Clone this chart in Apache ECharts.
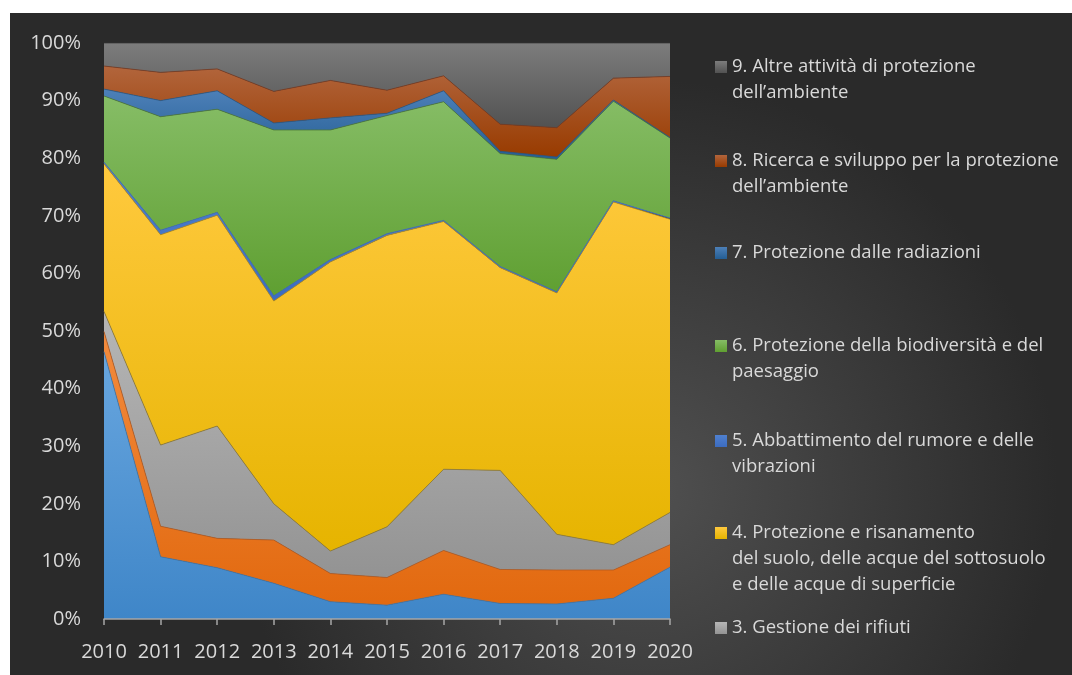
<!DOCTYPE html>
<html>
<head>
<meta charset="utf-8">
<script src="https://cdn.jsdelivr.net/npm/echarts@6/dist/echarts.min.js"></script>
<style>
  html, body { margin: 0; padding: 0; background: #ffffff; }
  #chart { width: 1072px; height: 675px; }
</style>
</head>
<body>
<div id="chart"></div>
<script>
// Years on the horizontal axis
const years = ['2010', '2011', '2012', '2013', '2014', '2015', '2016', '2017', '2018', '2019', '2020'];

// Share of spending (%) by environmental protection domain
const aria      = [46.4, 10.8, 8.9, 6.2, 3.0, 2.4, 4.3, 2.7, 2.6, 3.6, 9.0];
const acque     = [3.5, 5.3, 5.1, 7.5, 4.9, 4.8, 7.6, 5.9, 5.9, 4.9, 3.9];
const rifiuti   = [3.5, 14.1, 19.5, 6.3, 3.9, 8.8, 14.1, 17.2, 6.2, 4.4, 5.6];
const suolo     = [25.6, 36.5, 36.6, 35.2, 50.2, 50.6, 43.0, 35.2, 41.9, 59.5, 50.9];
const rumore    = [0.3, 0.8, 0.5, 0.9, 0.4, 0.3, 0.2, 0.2, 0.2, 0.2, 0.2];
const biodiv    = [11.5, 19.7, 17.9, 28.8, 22.5, 20.5, 20.6, 19.6, 23.0, 17.3, 13.9];
const radiaz    = [1.2, 2.8, 3.2, 1.2, 2.1, 0.4, 1.9, 0.4, 0.4, 0.2, 0.1];
const ricerca   = [4.0, 4.9, 3.8, 5.5, 6.5, 4.0, 2.6, 4.7, 5.1, 3.8, 10.6];
const altre     = [4.0, 5.1, 4.5, 8.4, 6.5, 8.2, 5.7, 14.1, 14.7, 6.1, 5.8];

// Y axis tick labels
const yTicks = [0, 10, 20, 30, 40, 50, 60, 70, 80, 90, 100];

// Series names (legend lines separated by \n)
const names = [
  '1. Protezione dell’aria e del clima',
  '2. Gestione delle acque reflue',
  '3. Gestione dei rifiuti',
  '4. Protezione e risanamento\ndel suolo, delle acque del sottosuolo\ne delle acque di superficie',
  '5. Abbattimento del rumore e delle\nvibrazioni',
  '6. Protezione della biodiversità e del\npaesaggio',
  '7. Protezione dalle radiazioni',
  '8. Ricerca e sviluppo per la protezione\ndell’ambiente',
  '9. Altre attività di protezione\ndell’ambiente'
];
const values = [aria, acque, rifiuti, suolo, rumore, biodiv, radiaz, ricerca, altre];

// [top colour, bottom colour, outline]
const palette = [
  ['#68a6df', '#3f86c8', '#3a78b4'],
  ['#f28b3e', '#e2690f', '#b85a1e'],
  ['#b6b6b6', '#939393', '#8a7a40'],
  ['#ffc93e', '#e6b400', '#b89020'],
  ['#4f80cf', '#3c6cc0', '#3f6fc4'],
  ['#86bd66', '#5f9f31', '#4f7a3a'],
  ['#4d80b8', '#245e94', '#2a5a8a'],
  ['#b2653c', '#983b00', '#7a3a20'],
  ['#7c7c7c', '#525252', '#404040']
];

function grad(c) {
  return new echarts.graphic.LinearGradient(0, 0, 0, 1, [
    { offset: 0, color: c[0] },
    { offset: 1, color: c[1] }
  ]);
}

const series = values.map((v, i) => ({
  name: names[i],
  type: 'line',
  stack: 'totale',
  data: v,
  symbol: 'none',
  showSymbol: false,
  color: palette[i][1],
  lineStyle: { width: 0.8, color: palette[i][2] },
  areaStyle: { color: grad(palette[i]), opacity: 1 },
  emphasis: { disabled: true }
}));

// Legend entries shown top-to-bottom (domains 9 down to 3), first-line centres
const legendOrder = [8, 7, 6, 5, 4, 3, 2];
const legendCentres = [67, 161, 253, 346, 441, 533, 628];
const LINE_H = 26;
const LEG_FONT = 18.5;
const TEXT_X = 732;

// Each legend entry shows the first line beside its swatch
const legends = legendOrder.map((idx, k) => ({
  data: [{ name: names[idx], itemStyle: { color: grad(palette[idx]) } }],
  left: 715,
  top: legendCentres[k] - LINE_H / 2,
  orient: 'vertical',
  padding: 0,
  icon: 'rect',
  itemWidth: 12,
  itemHeight: 12,
  selectedMode: false,
  formatter: name => name.split('\n')[0],
  textStyle: {
    color: '#d9d9d9',
    fontSize: LEG_FONT,
    fontFamily: 'Open Sans',
    lineHeight: LINE_H
  }
}));

// Continuation lines of the longer legend entries
const legendExtra = [];
legendOrder.forEach((idx, k) => {
  names[idx].split('\n').slice(1).forEach((line, j) => {
    legendExtra.push({
      type: 'text',
      x: TEXT_X,
      y: legendCentres[k] + LINE_H * (j + 1),
      silent: true,
      style: {
        text: line,
        fill: '#d9d9d9',
        font: LEG_FONT + 'px "Open Sans"',
        verticalAlign: 'middle',
        align: 'left'
      }
    });
  });
});

const chart = echarts.init(document.getElementById('chart'), null, { renderer: 'canvas' });

chart.setOption({
  animation: false,
  backgroundColor: '#ffffff',
  graphic: [{
    type: 'rect',
    left: 10,
    top: 13,
    z: -10,
    silent: true,
    shape: { width: 1062, height: 662 },
    style: {
      fill: new echarts.graphic.RadialGradient(0.6, 0.72, 0.62, [
        { offset: 0, color: '#505050' },
        { offset: 1, color: '#2a2a2a' }
      ])
    }
  }].concat(legendExtra),
  grid: { left: 104, right: 402, top: 43, bottom: 56 },
  legend: legends,
  xAxis: {
    type: 'category',
    data: years,
    boundaryGap: false,
    axisLine: { lineStyle: { color: '#a6a6a6', width: 1.5 } },
    axisTick: { show: true, length: 6, lineStyle: { color: '#a6a6a6', width: 1.5 } },
    axisLabel: {
      color: '#d9d9d9', fontSize: 20, fontFamily: 'Open Sans',
      margin: 23, interval: 0, hideOverlap: false
    },
    z: 10
  },
  yAxis: {
    type: 'value',
    min: yTicks[0],
    max: yTicks[yTicks.length - 1],
    interval: yTicks[1] - yTicks[0],
    axisLine: { show: false },
    axisTick: { show: false },
    splitLine: { show: false },
    axisLabel: {
      color: '#d9d9d9',
      fontSize: 20,
      fontFamily: 'Open Sans',
      margin: 23,
      formatter: '{value}%'
    }
  },
  series: series
});
</script>
</body>
</html>
